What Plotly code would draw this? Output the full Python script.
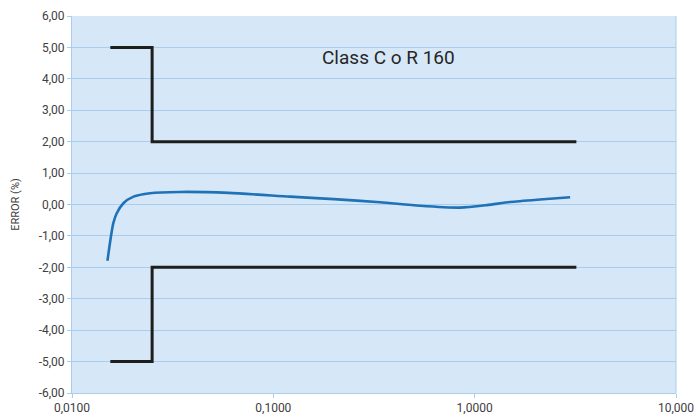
import plotly.graph_objects as go

# Limit lines (class C / R 160)
upper_x = [0.0155, 0.025, 0.025, 3.2]
upper_y = [5.0, 5.0, 2.0, 2.0]
lower_x = [0.0155, 0.025, 0.025, 3.2]
lower_y = [-5.0, -5.0, -2.0, -2.0]

# Measured error curve
curve_x = [0.0150, 0.01603, 0.01668, 0.0180, 0.0202, 0.0244, 0.0344, 0.060, 0.121, 0.200, 0.339, 0.536, 0.845, 1.15, 1.50, 2.11, 2.98]
curve_y = [-1.79, -0.60, -0.28, 0.04, 0.25, 0.36, 0.40, 0.37, 0.25, 0.17, 0.07, -0.04, -0.10, -0.02, 0.08, 0.16, 0.23]

y_ticks = [6, 5, 4, 3, 2, 1, 0, -1, -2, -3, -4, -5, -6]
y_labels = ["6,00", "5,00", "4,00", "3,00", "2,00", "1,00", "0,00", "-1,00", "-2,00", "-3,00", "-4,00", "-5,00", "-6,00"]
x_ticks = [0.01, 0.1, 1, 10]
x_labels = ["0,0100", "0,1000", "1,0000", "10,000"]

fig = go.Figure()
fig.add_trace(go.Scatter(x=upper_x, y=upper_y, mode="lines",
                         line=dict(color="#1e1e1e", width=3), showlegend=False))
fig.add_trace(go.Scatter(x=lower_x, y=lower_y, mode="lines",
                         line=dict(color="#1e1e1e", width=3), showlegend=False))
fig.add_trace(go.Scatter(x=curve_x, y=curve_y, mode="lines",
                         line=dict(color="#1f72b8", width=2.6, shape="spline", smoothing=0.7),
                         showlegend=False))

fig.add_annotation(x=-0.43, y=4.69, xref="x", yref="y", text="Class C o R 160",
                   showarrow=False, font=dict(size=19, color="#262626", family="Roboto"),
                   xanchor="center", yanchor="middle")

fig.update_layout(
    width=696, height=414,
    margin=dict(l=72, r=20, t=16, b=21),
    paper_bgcolor="white",
    plot_bgcolor="#d6e8f7",
    font=dict(family="Roboto", size=12, color="#404040"),
)
fig.update_xaxes(type="log", range=[-2, 1], tickvals=x_ticks, ticktext=x_labels,
                 showgrid=False, showline=True, linecolor="#a9cdee", linewidth=1,
                 ticks="outside", ticklen=4, tickcolor="#a9cdee", zeroline=False,
                 automargin=False)
fig.update_yaxes(range=[-6, 6], tickvals=y_ticks, ticktext=y_labels,
                 showgrid=True, gridcolor="#a9cdee", gridwidth=1,
                 showline=True, linecolor="#a9cdee", linewidth=1,
                 ticks="outside", ticklen=4, tickcolor="#a9cdee", zeroline=False,
                 automargin=False,
                 title=dict(text="ERROR (%)", font=dict(size=11, color="#404040"), standoff=16))
# right border line
fig.add_shape(type="line", xref="paper", yref="paper", x0=1, x1=1, y0=0, y1=1,
              line=dict(color="#a9cdee", width=1))

fig.write_html("out.html", config={"displayModeBar": False},
               post_script="document.body.style.margin='0';")
